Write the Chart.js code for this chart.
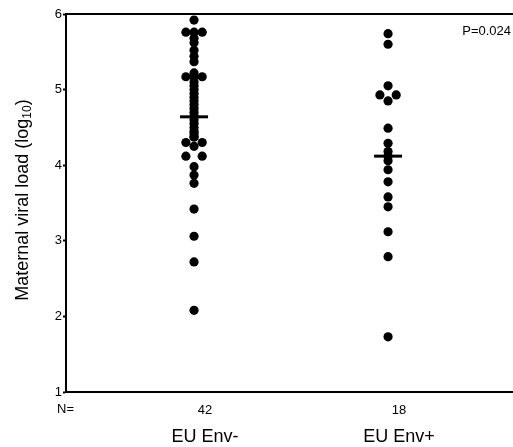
<!DOCTYPE html>
<html>
<head>
<meta charset="utf-8">
<script src="https://cdn.jsdelivr.net/npm/chart.js@4"></script>
<style>
  html, body { margin: 0; padding: 0; background: #fff; }
  #wrap { width: 513px; height: 447px; }
</style>
</head>
<body>
<div id="wrap"><canvas id="viralChart" width="513" height="447"></canvas></div>
<script>
// Data
const groups = ['EU Env-', 'EU Env+'];
const counts = ['42', '18'];
const yTicks = [1, 2, 3, 4, 5, 6];
const pValue = 'P=0.024';

// EU Env- (n=42): values and side offsets (-1 left, 0 centre, 1 right) for overlapping dots
const envNeg = [5.92, 5.76, 5.76, 5.76, 5.68, 5.62, 5.52, 5.44, 5.37, 5.22, 5.17, 5.17, 5.17,
  5.10, 5.05, 5.00, 4.95, 4.90, 4.85, 4.80, 4.75, 4.70, 4.65, 4.60, 4.55, 4.50, 4.45, 4.42, 4.38,
  4.37, 4.30, 4.30, 4.25, 4.12, 4.12, 3.98, 3.87, 3.76, 3.42, 3.06, 2.72, 2.08];
const envNegSide = [0, -1, 0, 1, 0, 0, 0, 0, 0, 0, -1, 0, 1,
  0, 0, 0, 0, 0, 0, 0, 0, 0, 0, 0, 0, 0, 0, 0, 0,
  0, -1, 1, 0, -1, 1, 0, 0, 0, 0, 0, 0, 0];

// EU Env+ (n=18)
const envPos = [5.74, 5.60, 5.05, 4.93, 4.93, 4.85, 4.49, 4.29, 4.18, 4.12, 4.06,
  3.94, 3.78, 3.58, 3.45, 3.12, 2.79, 1.73];
const envPosSide = [0, 0, 0, -1, 1, 0, 0, 0, 0, 0, 0, 0, 0, 0, 0, 0, 0, 0];

// summary bars
const centres = [4.64, 4.12];

const SIDE = 0.042;
const FONT = "'Liberation Sans', Arial, Helvetica, sans-serif";

function toPoints(vals, sides, g) {
  return vals.map((v, i) => ({ x: g + sides[i] * SIDE, y: v }));
}

function noPad(s) {
  s.paddingLeft = 0; s.paddingRight = 0; s.paddingTop = 0; s.paddingBottom = 0;
}

const overlay = {
  id: 'overlay',
  afterDraw(chart) {
    const c = chart.ctx;
    const a = chart.chartArea;
    c.save();
    c.fillStyle = '#000';
    // top frame line
    c.strokeStyle = '#000';
    c.lineWidth = 2;
    c.beginPath();
    c.moveTo(a.left, a.top);
    c.lineTo(a.right, a.top);
    c.stroke();

    // p value
    c.font = '13px ' + FONT;
    c.textAlign = 'right';
    c.textBaseline = 'middle';
    c.fillText(pValue, 511, 31);

    // N= label
    c.textAlign = 'left';
    c.fillText('N=', 57, 409);

    // y title with subscript
    const main = 'Maternal viral load (log';
    c.translate(23, 200);
    c.rotate(-Math.PI / 2);
    c.font = '18px ' + FONT;
    const w1 = c.measureText(main).width;
    c.font = '12px ' + FONT;
    const w2 = c.measureText('10').width;
    c.font = '18px ' + FONT;
    const w3 = c.measureText(')').width;
    const start = -(w1 + w2 + w3) / 2;
    c.textAlign = 'left';
    c.textBaseline = 'middle';
    c.fillText(main, start, 0);
    c.font = '12px ' + FONT;
    c.fillText('10', start + w1, 5);
    c.font = '18px ' + FONT;
    c.fillText(')', start + w1 + w2, 0);
    c.restore();
  }
};

const xMin = 0.34, xMax = 2.644;

new Chart(document.getElementById('viralChart'), {
  type: 'scatter',
  data: {
    datasets: [
      {
        data: toPoints(envNeg, envNegSide, 1),
        backgroundColor: '#000',
        borderColor: '#000',
        pointRadius: 4.6,
        borderWidth: 0
      },
      {
        data: toPoints(envPos, envPosSide, 2),
        backgroundColor: '#000',
        borderColor: '#000',
        pointRadius: 4.6,
        borderWidth: 0
      },
      {
        data: centres.map((v, i) => ({ x: i + 1, y: v })),
        pointStyle: 'line',
        pointRadius: 14,
        borderColor: '#000',
        borderWidth: 3
      }
    ]
  },
  options: {
    responsive: false,
    animation: false,
    layout: { autoPadding: false, padding: { left: 0, top: 14, right: 0, bottom: 0 } },
    plugins: { legend: { display: false }, tooltip: { enabled: false } },
    scales: {
      y: {
        min: 1, max: 6,
        afterBuildTicks: s => { s.ticks = yTicks.map(v => ({ value: v })); },
        afterFit: s => { s.width = 66; noPad(s); },
        ticks: { color: '#000', padding: 1, font: { size: 13, family: FONT } },
        grid: {
          color: ctx => 'rgba(0,0,0,0)',
          tickColor: '#000',
          tickLength: 3,
          tickWidth: 2
        },
        border: { color: '#000', width: 2 }
      },
      x: {
        type: 'linear',
        position: 'bottom',
        min: xMin, max: xMax,
        afterBuildTicks: s => { s.ticks = [{ value: 1 }, { value: 2 }]; },
        afterFit: s => { s.height = 27; noPad(s); },
        ticks: {
          color: '#000', padding: 11, labelOffset: 11, maxRotation: 0,
          font: { size: 13, family: FONT },
          callback: (v) => counts[v - 1]
        },
        grid: { display: false, drawTicks: false },
        border: { color: '#000', width: 2 }
      },
      x2: {
        type: 'linear',
        position: 'bottom',
        min: xMin, max: xMax,
        afterBuildTicks: s => { s.ticks = [{ value: 1 }, { value: 2 }]; },
        afterFit: s => { s.height = 28; noPad(s); },
        ticks: {
          color: '#000', padding: 7, labelOffset: 11, maxRotation: 0,
          font: { size: 18, family: FONT },
          callback: (v) => groups[v - 1]
        },
        grid: { display: false, drawTicks: false },
        border: { display: false }
      }
    }
  },
  plugins: [overlay]
});
</script>
</body>
</html>
